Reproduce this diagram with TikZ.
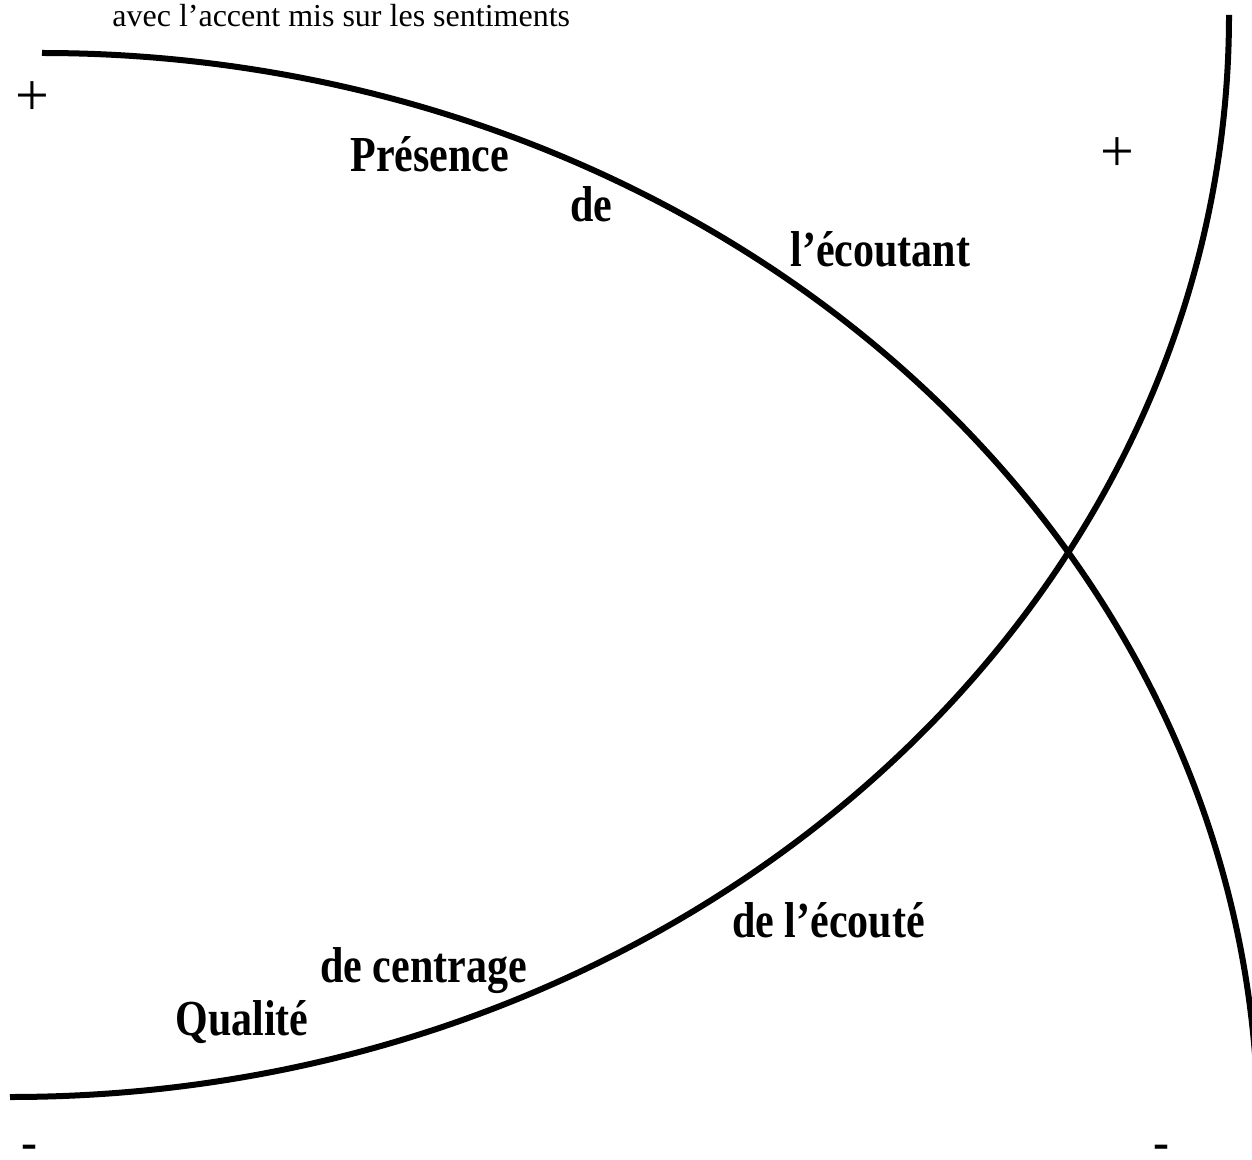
\documentclass[tikz,border=0pt]{standalone}
\usepackage{fontspec}
\setmainfont{Liberation Serif}
\newcommand\tallbox[1]{\scalebox{1}[1.2]{#1}}
\begin{document}
\begin{tikzpicture}[x=0.5pt,y=-0.5pt,
  curve/.style={line width=3pt},
  lbl/.style={font=\fontsize{21}{24}\selectfont\bfseries, inner sep=0pt, anchor=base west},
  note/.style={font=\fontsize{16}{19}\selectfont, inner sep=0pt, anchor=base west},
  sign/.style={font=\fontsize{30}{34}\selectfont, inner sep=0pt},
  minus/.style={font=\fontsize{24}{28}\selectfont\bfseries, inner sep=0pt, anchor=base west}]
\useasboundingbox (0,0) rectangle (1252,1160);
\clip (0,0) rectangle (1252,1160);
% curves
\draw[curve] (42,53) arc[start angle=270, end angle=365, x radius=1216, y radius=1077];
\draw[curve] (10,1097) arc[start angle=90, end angle=0, x radius=1219, y radius=1082];
% texts
\node[note] (t0) at (112,27) {avec l’accent mis sur les sentiments};
\node[lbl] (p1) at (350,172) {\tallbox{Présence}};
\node[lbl] (p2) at (570,222) {\tallbox{de}};
\node[lbl] (p3) at (790,267) {\tallbox{l’écoutant}};
\node[lbl] (q3) at (732,937) {\tallbox{de l’écouté}};
\node[lbl] (q2) at (320,982) {\tallbox{de centrage}};
\node[lbl] (q1) at (175,1035) {\tallbox{Qualité}};
% signs
\node[sign] (s1) at (32,99) {+};
\node[sign] (s2) at (1117,155) {+};
\node[minus] (m1) at (21,1158) {-};
\node[minus] (m2) at (1153,1158) {-};
\end{tikzpicture}
\end{document}
